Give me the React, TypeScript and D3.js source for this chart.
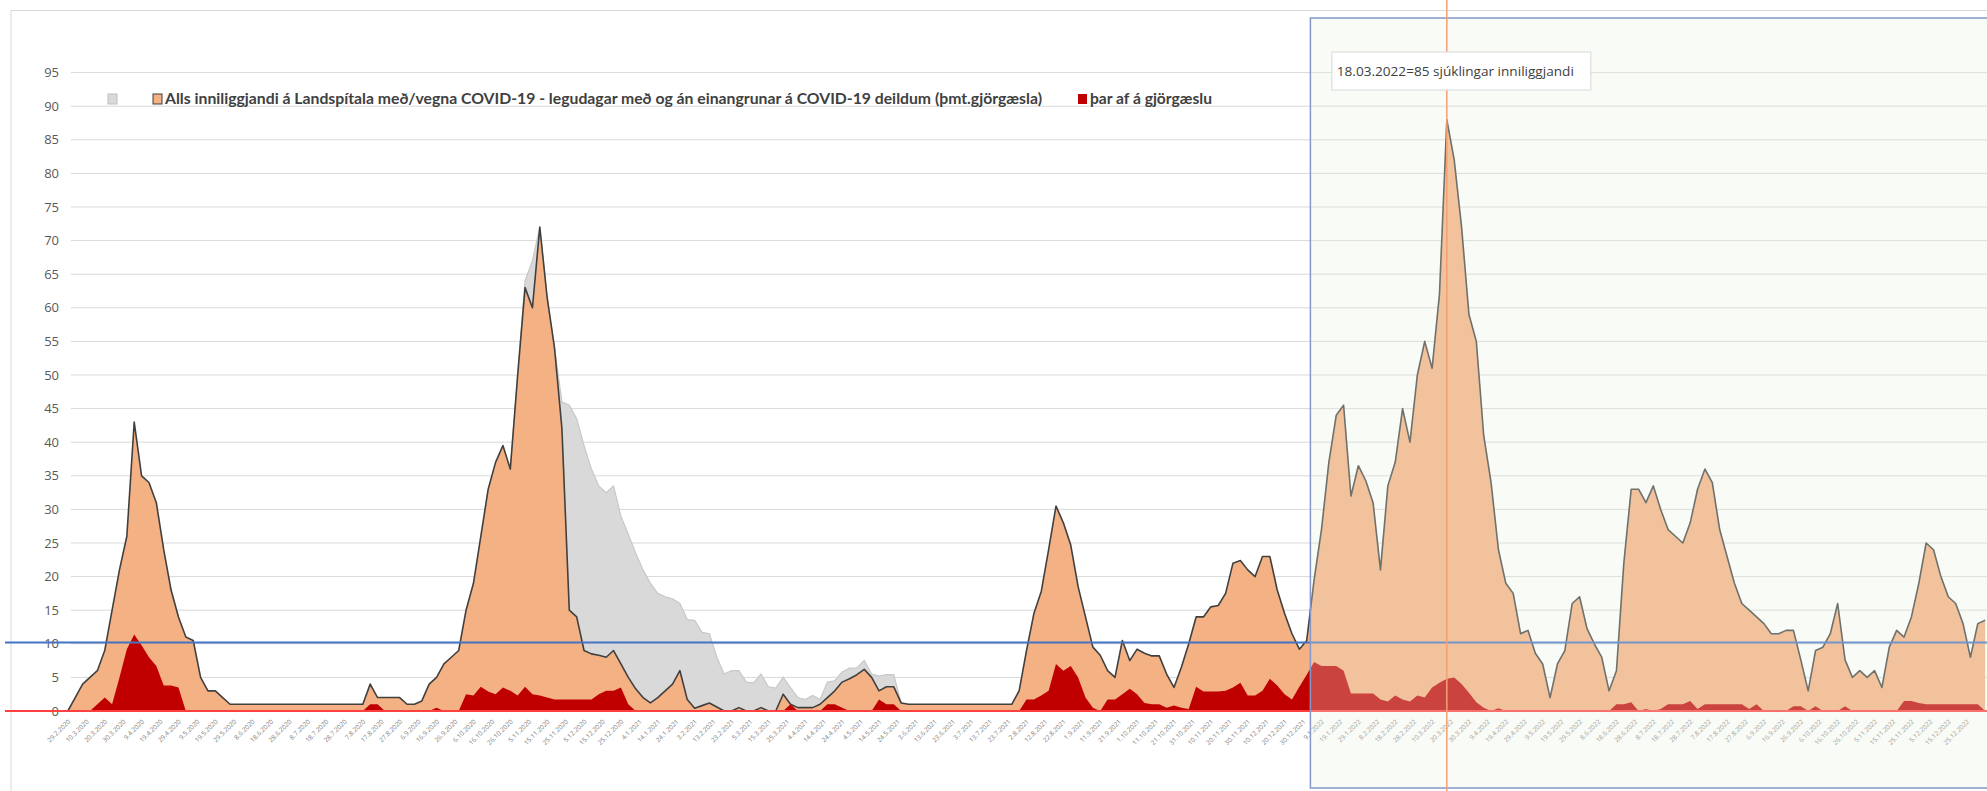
import { useMemo } from "react";
import * as d3 from "d3";

const WIDTH = 1987;
const HEIGHT = 791;

// daily series sampled every 4 days, first sample 29.2.2020
const FIRST_DAY = new Date(2020, 1, 29);
const STEP_DAYS = 4;

// Alls inniliggjandi (orange)
const inniliggjandi = [
  0, 2, 4, 5, 6, 9, 15, 21, 26, 43,
  35, 34, 31, 24, 18, 14, 11, 10.5, 5, 3,
  3, 2, 1, 1, 1, 1, 1, 1, 1, 1,
  1, 1, 1, 1, 1, 1, 1, 1, 1, 1,
  1, 4, 2, 2, 2, 2, 1, 1, 1.5, 4,
  5, 7, 8, 9, 15, 19, 26, 33, 37, 39.5,
  36, 50, 63, 60, 72, 61.5, 54, 42, 15, 14,
  9, 8.5, 8.3, 8, 9, 7, 5, 3.3, 2, 1.2,
  2, 3, 4, 6, 1.7, 0.4, 0.8, 1.2, 0.6, 0,
  0, 0.5, 0, 0, 0.5, 0, 0, 2.5, 1, 0.5,
  0.5, 0.5, 1, 2, 3, 4.3, 4.8, 5.4, 6.2, 5,
  3, 3.6, 3.6, 1.2, 1, 1, 1, 1, 1, 1,
  1, 1, 1, 1, 1, 1, 1, 1, 1, 3,
  9, 14.5, 17.8, 24, 30.5, 28, 24.7, 18.5, 14, 9.5,
  8.3, 6, 5, 10.5, 7.5, 9.2, 8.6, 8.2, 8.2, 5.5,
  3.5, 6.5, 10, 14, 14, 15.5, 15.7, 17.5, 22, 22.4,
  21, 20, 23, 23, 18, 14.5, 11.5, 9.2, 10.5, 19.5,
  27, 37, 44, 45.5, 32, 36.5, 34.3, 31, 21, 33.5,
  37, 45, 40, 50, 55, 51, 62, 88, 82, 72,
  59, 55, 41, 34, 24, 19, 17.5, 11.5, 12, 8.6,
  7, 2, 7, 9, 16, 17, 12.3, 10, 8, 3,
  6, 22, 33, 33, 31, 33.5, 30, 27, 26, 25,
  28, 33, 36, 34, 27, 23, 19, 16, 15, 14,
  13, 11.5, 11.5, 12, 12, 7.6, 3, 9, 9.5, 11.5,
  16, 7.6, 5, 6, 5, 6, 3.5, 9.5, 12, 11,
  14, 19, 25, 24, 20, 17, 16, 13, 8, 13,
  13.5,
];

// þar af á gjörgæslu (red)
const gjorgaesla = [
  0, 0, 0, 0, 1, 2, 1, 5, 9.2, 11.4,
  9.8, 8, 6.7, 3.8, 3.8, 3.5, 0, 0, 0, 0,
  0, 0, 0, 0, 0, 0, 0, 0, 0, 0,
  0, 0, 0, 0, 0, 0, 0, 0, 0, 0,
  0, 1, 1, 0, 0, 0, 0, 0, 0, 0,
  0.5, 0, 0, 0, 2.5, 2.3, 3.6, 2.9, 2.5, 3.5,
  3, 2.3, 3.6, 2.5, 2.3, 2, 1.7, 1.7, 1.7, 1.7,
  1.7, 1.7, 2.5, 3, 3, 3.5, 1, 0, 0, 0,
  0, 0, 0, 0, 0, 0, 0, 0, 0, 0,
  0, 0, 0, 0, 0, 0, 0, 0, 1, 0,
  0, 0, 0, 1, 1, 0.5, 0, 0, 0, 0,
  1.7, 1, 1, 0, 0, 0, 0, 0, 0, 0,
  0, 0, 0, 0, 0, 0, 0, 0, 0, 0,
  1.7, 1.7, 2.3, 3, 7, 6, 6.7, 5, 2, 0.5,
  0, 1.7, 1.7, 2.5, 3.3, 2.5, 1.2, 1, 1, 0.5,
  0.8, 0.5, 0.3, 3.6, 2.9, 2.9, 2.9, 3, 3.5, 4.2,
  2.3, 2.3, 3, 4.8, 3.8, 2.5, 1.7, 3.6, 5.4, 7.3,
  6.7, 6.7, 6.7, 6, 2.6, 2.6, 2.6, 2.6, 1.7, 1.4,
  2.3, 1.7, 1.4, 2.3, 2, 3.5, 4.2, 4.8, 5, 4,
  2.7, 1.3, 0.5, 0, 0.4, 0, 0, 0, 0, 0,
  0, 0, 0, 0, 0, 0, 0, 0, 0, 0,
  1, 1, 1.3, 0, 0.3, 0, 0.3, 1, 1, 1,
  1.5, 0.3, 1, 1, 1, 1, 1, 1, 0.3, 1,
  0, 0, 0, 0, 0.7, 0.7, 0, 0.7, 0, 0,
  0, 0.7, 0, 0, 0, 0, 0, 0, 0, 1.5,
  1.5, 1.2, 1, 1, 1, 1, 1, 1, 1, 1,
  0,
];

// gray series (no legend text), only where it differs from the orange one
const GRAY_FIRST_INDEX = 60;
const grar = [
  36, 50, 64, 67, 72, 61.5, 54, 46, 45.5, 43.5,
  39.5, 36, 33.5, 32.5, 33.5, 29, 26.3, 23.5, 21, 19,
  17.5, 17, 16.7, 16, 13.6, 13.5, 11.7, 11.5, 8, 5.5,
  6, 6, 4.3, 4.2, 5.5, 3.6, 3.4, 5, 3.5, 2,
  1.7, 2.3, 1.7, 4.3, 4.5, 5.8, 6.4, 6.4, 7.5, 5.5,
  5.2, 5.4, 5.4, 1.2, 1,
];

const yTicks = [0, 5, 10, 15, 20, 25, 30, 35, 40, 45, 50, 55, 60, 65, 70, 75, 80, 85, 90, 95];
const LEGEND_ORANGE =
  "Alls inniliggjandi á Landspítala með/vegna COVID-19 - legudagar með og án einangrunar á COVID-19 deildum (þmt.gjörgæsla)";
const LEGEND_RED = "þar af á gjörgæslu";
const PEAK_DATE = new Date(2022, 2, 18);
const PEAK_LABEL = "18.03.2022=85 sjúklingar inniliggjandi";
const HIGHLIGHT_START = new Date(2022, 0, 3);
const BLUE_LEVEL = 10.2;
const TICK_EVERY_DAYS = 10;

const MARGIN = { top: 72.6, bottom: 80, left: 66, right: 0 };

type Pt = { date: Date; v: number };

export default function App() {
  const xScale = useMemo(
    () =>
      d3
        .scaleTime()
        .domain([new Date(2020, 1, 28), new Date(2023, 0, 5)])
        .range([MARGIN.left, WIDTH - MARGIN.right]),
    []
  );
  const yScale = useMemo(
    () => d3.scaleLinear().domain([0, 95]).range([HEIGHT - MARGIN.bottom, MARGIN.top]),
    []
  );

  const toPts = (vals: number[], offset: number): Pt[] =>
    vals.map((v, i) => ({ date: d3.timeDay.offset(FIRST_DAY, (i + offset) * STEP_DAYS), v }));

  const orangePts = toPts(inniliggjandi, 0);
  const redPts = toPts(gjorgaesla, 0);
  const grayPts = toPts(grar, GRAY_FIRST_INDEX);

  const area = d3
    .area<Pt>()
    .x((d) => xScale(d.date))
    .y0(yScale(0))
    .y1((d) => yScale(d.v));
  const line = d3
    .line<Pt>()
    .x((d) => xScale(d.date))
    .y((d) => yScale(d.v));

  // tick labels every 10 days, drop the ones that would run off the right edge
  const ticks = d3
    .timeDay.range(FIRST_DAY, xScale.domain()[1], TICK_EVERY_DAYS)
    .filter((d) => xScale(d) + 6 < WIDTH);
  const fmt = d3.timeFormat("%-d.%-m.%Y");

  const y0 = yScale(0);
  const boxX = xScale(HIGHLIGHT_START);
  const peakX = xScale(PEAK_DATE);

  return (
    <svg
      width={WIDTH}
      height={HEIGHT}
      style={{ position: "absolute", left: 0, top: 0, background: "#fff" }}
      fontFamily="'Open Sans', sans-serif"
    >
      {/* chart area border */}
      <line x1={11} x2={WIDTH} y1={10.5} y2={10.5} stroke="#d9d9d9" />
      <line x1={11} x2={11} y1={10.5} y2={HEIGHT} stroke="#d9d9d9" />

      {/* gridlines + y labels */}
      {yTicks.map((t) => (
        <g key={t}>
          {t > 0 && (
            <line x1={71} x2={WIDTH} y1={yScale(t)} y2={yScale(t)} stroke="#d9d9d9" strokeWidth={1} />
          )}
          <text x={59} y={yScale(t)} dy="0.35em" textAnchor="end" fontSize={13} fill="#595959">
            {t}
          </text>
        </g>
      ))}

      {/* series */}
      <path d={area(grayPts) ?? ""} fill="#d9d9d9" />
      <path d={line(grayPts) ?? ""} fill="none" stroke="#c8c8c8" strokeWidth={1.2} />
      <path d={area(orangePts) ?? ""} fill="#f4b183" />
      <path d={line(orangePts) ?? ""} fill="none" stroke="#404040" strokeWidth={1.6} strokeLinejoin="round" />
      <path d={area(redPts) ?? ""} fill="#c00000" />

      {/* reference lines */}
      <line x1={5} x2={WIDTH} y1={yScale(BLUE_LEVEL)} y2={yScale(BLUE_LEVEL)} stroke="#4472c4" strokeWidth={2} />
      <line x1={5} x2={WIDTH} y1={y0} y2={y0} stroke="#ff4040" strokeWidth={1.8} />

      {/* x tick labels */}
      {ticks.map((d, i) => (
        <text
          key={i}
          transform={`translate(${xScale(d) + 3},${y0 + 11}) rotate(-45)`}
          textAnchor="end"
          fontSize={6.5}
          fill="#808080"
        >
          {fmt(d)}
        </text>
      ))}

      {/* legend */}
      <g fontFamily="Lato, sans-serif" fontWeight="bold" fontSize={15} fill="#404040">
        <rect x={108} y={94} width={9} height={10} fill="#d9d9d9" stroke="#bfbfbf" />
        <rect x={153} y={94} width={9} height={10} fill="#f4b183" stroke="#404040" />
        <text x={165} y={104} textLength={877} lengthAdjust="spacingAndGlyphs">
          {LEGEND_ORANGE}
        </text>
        <rect x={1078} y={94} width={9} height={10} fill="#c00000" />
        <text x={1090} y={104} textLength={122} lengthAdjust="spacingAndGlyphs">
          {LEGEND_RED}
        </text>
      </g>

      {/* highlighted period */}
      <rect
        x={boxX}
        y={18}
        width={WIDTH - boxX + 20}
        height={770}
        fill="#ebf1de"
        fillOpacity={0.28}
        stroke="#8497c8"
        strokeWidth={1.5}
      />

      {/* peak marker */}
      <line x1={peakX} x2={peakX} y1={0} y2={HEIGHT} stroke="#f4a070" strokeWidth={1.5} />
      <rect x={peakX - 115} y={52} width={259} height={38} fill="#fff" stroke="#d9d9d9" />
      <text x={peakX - 110} y={76} fontSize={12.5} fill="#404040" textLength={237} lengthAdjust="spacingAndGlyphs">
        {PEAK_LABEL}
      </text>
    </svg>
  );
}
